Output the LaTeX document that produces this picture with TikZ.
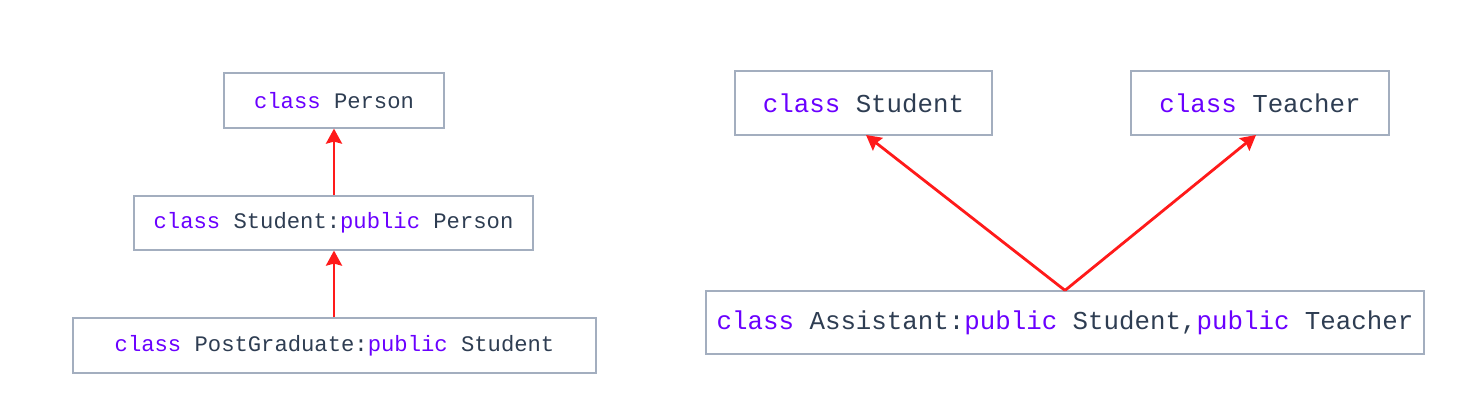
\documentclass[tikz,border=0pt]{standalone}
\usepackage{fontspec}
\setmonofont{Liberation Mono}
\usetikzlibrary{arrows.meta}
\definecolor{kw}{HTML}{6A00FF}
\definecolor{tx}{HTML}{2E3D52}
\definecolor{bd}{HTML}{A3AEBF}
\definecolor{ar}{HTML}{FF1A1A}
\newcommand{\kwd}[1]{\textcolor{kw}{#1}}
\begin{document}
\begin{tikzpicture}[x=1pt,y=-1pt,
  cbox/.style={draw=bd,line width=1.2pt,inner sep=0pt,text=tx,font=\ttfamily\fontsize{22.2}{26}\selectfont},
  bigtext/.style={font=\ttfamily\fontsize{25.8}{30}\selectfont},
  inh/.style={draw=ar,line width=2.8pt,-{Stealth[length=15pt,width=16pt,inset=2pt]}}]
\useasboundingbox (0,0) rectangle (1473,409);
% left hierarchy
\node[cbox,minimum width=220pt,minimum height=55pt] (person) at (334,100.5) {\kwd{class} Person};
\node[cbox,minimum width=399pt,minimum height=54pt] (student) at (333.5,223) {\kwd{class} Student:\kwd{public} Person};
\node[cbox,minimum width=523pt,minimum height=55pt] (post) at (334.5,345.5) {\kwd{class} PostGraduate:\kwd{public} Student};
\draw[inh] (student.north -| person.south) -- (person.south);
\draw[inh] (post.north -| person.south) -- (student.south -| person.south);
% right hierarchy
\node[cbox,bigtext,minimum width=257pt,minimum height=64pt] (rstudent) at (863.5,103) {\kwd{class} Student};
\node[cbox,bigtext,minimum width=258pt,minimum height=64pt] (teacher) at (1260,103) {\kwd{class} Teacher};
\node[cbox,bigtext,minimum width=718pt,minimum height=63pt] (assist) at (1065,322.5) {\kwd{class} Assistant:\kwd{public} Student,\kwd{public} Teacher};
\coordinate (tip1) at (866,135);
\coordinate (tip2) at (1256,135);
\draw[inh] (assist.north) -- (tip1);
\draw[inh] (assist.north) -- (tip2);
\end{tikzpicture}
\end{document}
